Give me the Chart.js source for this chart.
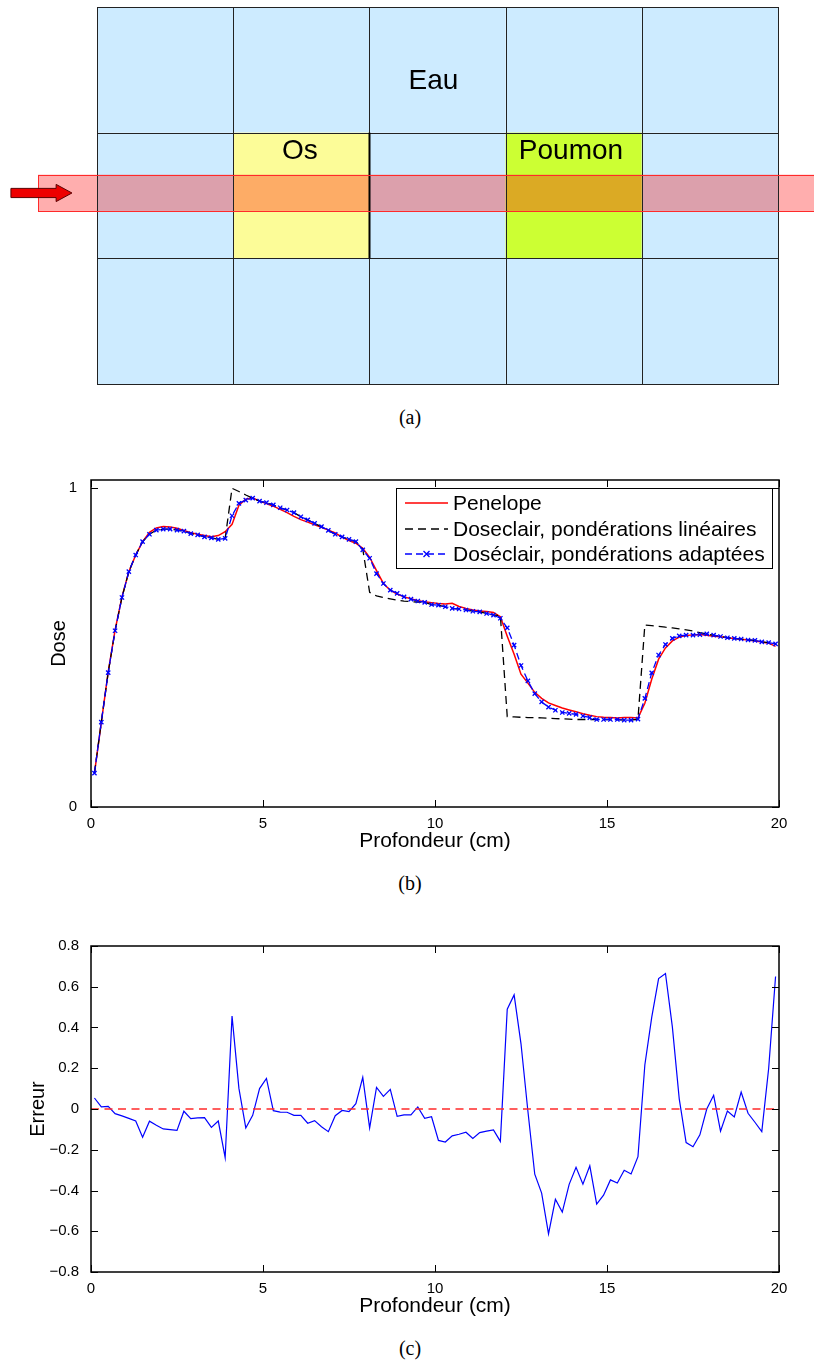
<!DOCTYPE html>
<html><head><meta charset="utf-8">
<script src="https://cdn.jsdelivr.net/npm/chart.js@4.4.1/dist/chart.umd.min.js"></script>
<style>
html,body{margin:0;padding:0;background:#fff;}
body{width:814px;height:1367px;position:relative;overflow:hidden;}
.cv{position:absolute;left:0;}
.cap{position:absolute;left:0;width:820px;text-align:center;font-family:"Liberation Serif","DejaVu Serif",serif;font-size:20px;line-height:24px;color:#000;}
</style></head><body>
<div class="cv" style="top:0px"><canvas id="cA" width="814" height="400"></canvas></div>
<div class="cap" style="top:405px">(a)</div>
<div class="cv" style="top:460px"><canvas id="cB" width="814" height="395"></canvas></div>
<div class="cap" style="top:871px">(b)</div>
<div class="cv" style="top:926px"><canvas id="cC" width="814" height="394"></canvas></div>
<div class="cap" style="top:1336px">(c)</div>
<script>
// ---------------- data ----------------
// panel (a): phantom layout (rows from top, columns from left)
const phantomMaterials = [
  ['eau','eau','eau','eau','eau'],
  ['eau','os','eau','poumon','eau'],
  ['eau','eau','eau','eau','eau']
];
const materialLabels = ['Eau','Os','Poumon'];

// panel (b) and (c): depth samples (cm)
const depth = [0.1,0.3,0.5,0.7,0.9,1.1,1.3,1.5,1.7,1.9,2.1,2.3,2.5,2.7,2.9,3.1,3.3,3.5,3.7,3.9,
  4.1,4.3,4.5,4.7,4.9,5.1,5.3,5.5,5.7,5.9,6.1,6.3,6.5,6.7,6.9,7.1,7.3,7.5,7.7,7.9,
  8.1,8.3,8.5,8.7,8.9,9.1,9.3,9.5,9.7,9.9,10.1,10.3,10.5,10.7,10.9,11.1,11.3,11.5,11.7,11.9,
  12.1,12.3,12.5,12.7,12.9,13.1,13.3,13.5,13.7,13.9,14.1,14.3,14.5,14.7,14.9,15.1,15.3,15.5,15.7,15.9,
  16.1,16.3,16.5,16.7,16.9,17.1,17.3,17.5,17.7,17.9,18.1,18.3,18.5,18.7,18.9,19.1,19.3,19.5,19.7,19.9];

const penelopeDose = [0.105,0.265,0.423,0.554,0.658,0.737,0.789,0.831,0.860,0.874,
  0.878,0.877,0.873,0.866,0.859,0.854,0.850,0.846,0.850,0.862,
  0.885,0.945,0.964,0.968,0.958,0.950,0.942,0.932,0.922,0.910,
  0.900,0.892,0.884,0.876,0.867,0.858,0.845,0.834,0.826,0.810,
  0.782,0.740,0.700,0.679,0.667,0.658,0.652,0.646,0.643,0.640,
  0.637,0.636,0.638,0.628,0.622,0.617,0.614,0.612,0.609,0.596,
  0.535,0.478,0.416,0.388,0.359,0.340,0.326,0.318,0.310,0.304,
  0.298,0.292,0.287,0.283,0.281,0.280,0.279,0.280,0.280,0.279,
  0.325,0.400,0.463,0.498,0.520,0.532,0.537,0.539,0.540,0.538,
  0.535,0.533,0.530,0.528,0.525,0.523,0.520,0.517,0.513,0.503];

const linearDose = [0.106,0.266,0.421,0.552,0.656,0.737,0.789,0.831,0.854,0.867,
  0.870,0.870,0.867,0.864,0.856,0.852,0.846,0.843,0.838,0.841,
  0.998,0.988,0.977,0.967,0.958,0.953,0.946,0.937,0.930,0.922,
  0.909,0.899,0.888,0.878,0.866,0.854,0.846,0.838,0.831,0.808,
  0.672,0.661,0.656,0.652,0.648,0.645,0.643,0.642,0.641,0.634,
  0.632,0.627,0.622,0.620,0.617,0.613,0.611,0.606,0.601,0.600,
  0.283,0.282,0.281,0.280,0.280,0.279,0.278,0.277,0.276,0.275,
  0.274,0.274,0.274,0.274,0.274,0.274,0.274,0.272,0.272,0.275,
  0.570,0.568,0.566,0.563,0.561,0.558,0.555,0.551,0.546,0.542,
  0.538,0.534,0.530,0.528,0.526,0.523,0.522,0.517,0.515,0.511];

const adaptedDose = [0.106,0.266,0.421,0.552,0.656,0.737,0.789,0.831,0.854,0.867,
  0.870,0.870,0.867,0.864,0.856,0.852,0.846,0.843,0.838,0.841,
  0.912,0.951,0.961,0.967,0.958,0.953,0.946,0.937,0.930,0.922,
  0.909,0.899,0.888,0.878,0.866,0.854,0.846,0.838,0.831,0.805,
  0.779,0.731,0.700,0.679,0.669,0.658,0.651,0.645,0.641,0.634,
  0.632,0.627,0.622,0.620,0.617,0.613,0.611,0.606,0.601,0.591,
  0.561,0.507,0.443,0.395,0.355,0.329,0.313,0.303,0.296,0.293,
  0.290,0.285,0.280,0.274,0.274,0.274,0.274,0.272,0.272,0.275,
  0.340,0.420,0.476,0.509,0.528,0.536,0.538,0.538,0.540,0.542,
  0.538,0.534,0.530,0.528,0.526,0.523,0.522,0.517,0.515,0.511];

const errorValues = [0.054,0.010,0.013,-0.023,-0.034,-0.046,-0.059,-0.139,-0.060,-0.080,
  -0.098,-0.101,-0.105,-0.011,-0.047,-0.044,-0.042,-0.090,-0.059,-0.239,
  0.456,0.101,-0.093,-0.031,0.100,0.150,-0.008,-0.015,-0.016,-0.031,
  -0.031,-0.070,-0.057,-0.087,-0.111,-0.033,-0.007,-0.013,0.026,0.155,
  -0.093,0.106,0.062,0.096,-0.036,-0.029,-0.029,0.010,-0.046,-0.038,
  -0.154,-0.162,-0.132,-0.124,-0.114,-0.145,-0.116,-0.109,-0.103,-0.159,
  0.490,0.560,0.320,-0.010,-0.320,-0.413,-0.613,-0.443,-0.506,-0.370,
  -0.286,-0.369,-0.279,-0.467,-0.423,-0.348,-0.363,-0.301,-0.319,-0.234,
  0.216,0.450,0.640,0.665,0.403,0.050,-0.165,-0.185,-0.127,0.000,
  0.067,-0.109,-0.010,-0.039,0.083,-0.021,-0.065,-0.111,0.200,0.650];

const zeroRefX = [0, 20];
const zeroRefY = [0, 0];

const depthTicks = [0, 5, 10, 15, 20];
const doseTicks = [0, 1];
const errorTicks = [-0.8, -0.6, -0.4, -0.2, 0, 0.2, 0.4, 0.6, 0.8];

const seriesLabels = ['Penelope', 'Doseclair, pondérations linéaires', 'Doséclair, pondérations adaptées'];

// ---------------- styles / layout ----------------
const FONT = '"Liberation Sans", Arial, Helvetica, sans-serif';
Chart.defaults.font.family = FONT;
Chart.defaults.color = '#000';

const cellFill = {eau:'#cdebff', os:'#fcfc98', poumon:'#ccff33'};
const beamFill = {eau:'#dca0ac', os:'#fdac66', poumon:'#dbaa24', outside:'#ffaeae'};
const beamBand = [1.377, 1.666];     // y extent in row units
const beamStart = -0.433;           // x start in column units
const labelAnchor = {Eau:[2.47, 2.41], Os:[1.49, 1.85], Poumon:[3.48, 1.85]};
const arrowGeom = {x0:-0.632, xh:-0.30, x1:-0.184, y:1.52};

const toXY = (xs, ys) => xs.map((v, i) => ({x: v, y: ys[i]}));

// ---------------- plugins ----------------
const phantomPlugin = {
  id: 'phantom',
  afterDraw(chart) {
    const {ctx, scales: {x, y}} = chart;
    const X = v => x.getPixelForValue(v), Y = v => y.getPixelForValue(v);
    const nR = phantomMaterials.length, nC = phantomMaterials[0].length;
    ctx.save();
    phantomMaterials.forEach((row, r) => row.forEach((m, c) => {
      ctx.fillStyle = cellFill[m];
      ctx.fillRect(X(c), Y(nR - r), X(c + 1) - X(c), Y(nR - r - 1) - Y(nR - r));
    }));
    const bT = Y(beamBand[1]), bB = Y(beamBand[0]);
    const beamRow = nR - 1 - Math.floor(beamBand[0]);
    ctx.fillStyle = beamFill.outside;
    ctx.fillRect(X(beamStart), bT, X(0) - X(beamStart), bB - bT);
    ctx.fillRect(X(nC), bT, chart.width - X(nC), bB - bT);
    phantomMaterials[beamRow].forEach((m, c) => {
      ctx.fillStyle = beamFill[m];
      ctx.fillRect(X(c), bT, X(c + 1) - X(c), bB - bT);
    });
    // grid lines
    ctx.strokeStyle = '#222'; ctx.lineWidth = 1;
    ctx.beginPath();
    for (let c = 0; c <= nC; c++) { const p = Math.round(X(c)) + 0.5; ctx.moveTo(p, Y(nR)); ctx.lineTo(p, Y(0)); }
    for (let r = 0; r <= nR; r++) { const p = Math.round(Y(r)) + 0.5; ctx.moveTo(X(0), p); ctx.lineTo(X(nC) + 1, p); }
    ctx.stroke();
    // bone cell right border (thicker)
    ctx.strokeStyle = '#000'; ctx.lineWidth = 2;
    ctx.beginPath(); ctx.moveTo(Math.round(X(2)) + 0.5, Y(2)); ctx.lineTo(Math.round(X(2)) + 0.5, Y(1)); ctx.stroke();
    // beam outline
    ctx.strokeStyle = '#ff2a2a'; ctx.lineWidth = 1;
    ctx.strokeRect(Math.round(X(beamStart)) + 0.5, Math.round(bT) + 0.5, chart.width, Math.round(bB - bT));
    // labels
    ctx.fillStyle = '#000'; ctx.font = '28px ' + FONT; ctx.textAlign = 'center'; ctx.textBaseline = 'middle';
    materialLabels.forEach(t => ctx.fillText(t, X(labelAnchor[t][0]), Y(labelAnchor[t][1])));
    // arrow
    const ay = Y(arrowGeom.y);
    ctx.beginPath();
    ctx.moveTo(X(arrowGeom.x0), ay - 4.6);
    ctx.lineTo(X(arrowGeom.xh), ay - 4.6);
    ctx.lineTo(X(arrowGeom.xh), ay - 8.6);
    ctx.lineTo(X(arrowGeom.x1), ay);
    ctx.lineTo(X(arrowGeom.xh), ay + 8.6);
    ctx.lineTo(X(arrowGeom.xh), ay + 4.6);
    ctx.lineTo(X(arrowGeom.x0), ay + 4.6);
    ctx.closePath();
    ctx.fillStyle = '#ee0000'; ctx.fill();
    ctx.strokeStyle = '#5a0000'; ctx.lineWidth = 1; ctx.stroke();
    ctx.restore();
  }
};

const matlabBox = {
  id: 'matlabBox',
  afterDraw(chart, args, opts) {
    if (!opts || !opts.enabled) return;
    const {ctx, chartArea: a, scales: {x, y}} = chart;
    ctx.save();
    ctx.strokeStyle = '#000'; ctx.lineWidth = 1;
    const L = a.left, R = a.right, T = a.top, B = a.bottom;
    ctx.beginPath();
    x.ticks.forEach(t => { const p = Math.round(x.getPixelForValue(t.value)) + 0.5; ctx.moveTo(p, B); ctx.lineTo(p, B - 7); ctx.moveTo(p, T); ctx.lineTo(p, T + 7); });
    y.ticks.forEach(t => { const p = Math.round(y.getPixelForValue(t.value)) + 0.5; ctx.moveTo(L, p); ctx.lineTo(L + 7, p); ctx.moveTo(R, p); ctx.lineTo(R - 7, p); });
    ctx.stroke();
    ctx.lineWidth = 1.5;
    ctx.strokeRect(L, T, R - L, B - T);
    ctx.restore();
  }
};

function drawCross(ctx, cx, cy, r) {
  ctx.beginPath();
  ctx.moveTo(cx - r, cy - r); ctx.lineTo(cx + r, cy + r);
  ctx.moveTo(cx + r, cy - r); ctx.lineTo(cx - r, cy + r);
  ctx.stroke();
}

const boxLegend = {
  id: 'boxLegend',
  afterDraw(chart, args, opts) {
    if (!opts || !opts.enabled) return;
    const {ctx, chartArea: a} = chart;
    const w = 376, h = 80, L = Math.round(a.right - 7 - w), T = Math.round(a.top + 8);
    const rows = [15, 41, 66];
    ctx.save();
    ctx.fillStyle = '#fff'; ctx.fillRect(L, T, w, h);
    ctx.strokeStyle = '#000'; ctx.lineWidth = 1; ctx.strokeRect(L + 0.5, T + 0.5, w, h);
    chart.data.datasets.forEach((ds, i) => {
      const yy = T + rows[i];
      ctx.strokeStyle = ds.borderColor; ctx.lineWidth = ds.borderWidth;
      ctx.setLineDash(ds.borderDash || []);
      ctx.beginPath(); ctx.moveTo(L + 9, yy); ctx.lineTo(L + 52, yy); ctx.stroke();
      ctx.setLineDash([]);
      if (ds.pointRadius > 0) { ctx.lineWidth = ds.pointBorderWidth; drawCross(ctx, L + 30.5, yy, ds.pointRadius); }
      ctx.fillStyle = '#000'; ctx.font = '21px ' + FONT; ctx.textAlign = 'left'; ctx.textBaseline = 'middle';
      ctx.fillText(ds.label, L + 57, yy + 1);
    });
    ctx.restore();
  }
};

const baseOpts = {responsive: false, animation: false, events: [], devicePixelRatio: 1};

// ---------------- panel (a) ----------------
new Chart(document.getElementById('cA'), {
  type: 'scatter',
  data: {datasets: []},
  options: Object.assign({}, baseOpts, {
    layout: {padding: {left: 97, right: 36, top: 7, bottom: 16}},
    plugins: {legend: {display: false}, tooltip: {enabled: false}},
    scales: {
      x: {type: 'linear', min: 0, max: phantomMaterials[0].length, display: false},
      y: {type: 'linear', min: 0, max: phantomMaterials.length, display: false}
    }
  }),
  plugins: [phantomPlugin]
});

// ---------------- panel (b) ----------------
new Chart(document.getElementById('cB'), {
  type: 'line',
  data: {datasets: [
    {label: seriesLabels[0], data: toXY(depth, penelopeDose), borderColor: '#ff0000', borderWidth: 1.5, pointRadius: 0, order: 3},
    {label: seriesLabels[1], data: toXY(depth, linearDose), borderColor: '#000000', borderWidth: 1.3, borderDash: [8, 5], pointRadius: 0, order: 2},
    {label: seriesLabels[2], data: toXY(depth, adaptedDose), borderColor: '#0000ff', borderWidth: 1.3, borderDash: [7, 4],
      pointRadius: 3, pointStyle: 'crossRot', pointBorderColor: '#0000ff', pointBackgroundColor: '#0000ff', pointBorderWidth: 1.3, order: 1}
  ]},
  options: Object.assign({}, baseOpts, {
    layout: {padding: {left: 47, right: 35, top: 20, bottom: 0}},
    plugins: {legend: {display: false}, tooltip: {enabled: false}, matlabBox: {enabled: true}, boxLegend: {enabled: true}},
    scales: {
      x: {type: 'linear', min: 0, max: 20,
        afterBuildTicks: s => { s.ticks = depthTicks.map(v => ({value: v})); },
        afterFit: s => { s.height = 48; },
        grid: {display: false}, border: {display: false},
        ticks: {font: {size: 15}, color: '#000', padding: 0, maxRotation: 0, callback: v => String(v)},
        title: {display: true, text: 'Profondeur (cm)', font: {size: 21}, color: '#000', padding: {top: 0, bottom: 1}}},
      y: {type: 'linear', min: 0, max: 1.024,
        afterBuildTicks: s => { s.ticks = doseTicks.map(v => ({value: v})); },
        afterFit: s => { s.width = 44; },
        grid: {display: false}, border: {display: false},
        ticks: {font: {size: 15}, color: '#000', padding: 6, callback: v => String(v)},
        title: {display: true, text: 'Dose', font: {size: 20}, color: '#000', padding: 0}}
    }
  }),
  plugins: [matlabBox, boxLegend]
});

// ---------------- panel (c) ----------------
const fmtErr = v => { if (Math.abs(v) < 1e-9) return '0'; const s = Math.abs(v).toFixed(1); return v < 0 ? '\u2212' + s : s; };
new Chart(document.getElementById('cC'), {
  type: 'line',
  data: {datasets: [
    {label: 'Erreur', data: toXY(depth, errorValues), borderColor: '#0000ff', borderWidth: 1.2, pointRadius: 0, order: 2},
    {label: 'zero', data: toXY(zeroRefX, zeroRefY), borderColor: '#ff2a2a', borderWidth: 1.3, borderDash: [8, 5.5], pointRadius: 0, order: 1}
  ]},
  options: Object.assign({}, baseOpts, {
    layout: {padding: {left: 26, right: 35, top: 20, bottom: 0}},
    plugins: {legend: {display: false}, tooltip: {enabled: false}, matlabBox: {enabled: true}},
    scales: {
      x: {type: 'linear', min: 0, max: 20,
        afterBuildTicks: s => { s.ticks = depthTicks.map(v => ({value: v})); },
        afterFit: s => { s.height = 48; },
        grid: {display: false}, border: {display: false},
        ticks: {font: {size: 15}, color: '#000', padding: 0, maxRotation: 0, callback: v => String(v)},
        title: {display: true, text: 'Profondeur (cm)', font: {size: 21}, color: '#000', padding: {top: 0, bottom: 1}}},
      y: {type: 'linear', min: -0.8, max: 0.8,
        afterBuildTicks: s => { s.ticks = errorTicks.map(v => ({value: v})); },
        afterFit: s => { s.width = 65; },
        grid: {display: false}, border: {display: false},
        ticks: {font: {size: 15}, color: '#000', padding: 4, callback: fmtErr},
        title: {display: true, text: 'Erreur', font: {size: 20}, color: '#000', padding: 0}}
    }
  }),
  plugins: [matlabBox]
});
</script>
</body></html>
